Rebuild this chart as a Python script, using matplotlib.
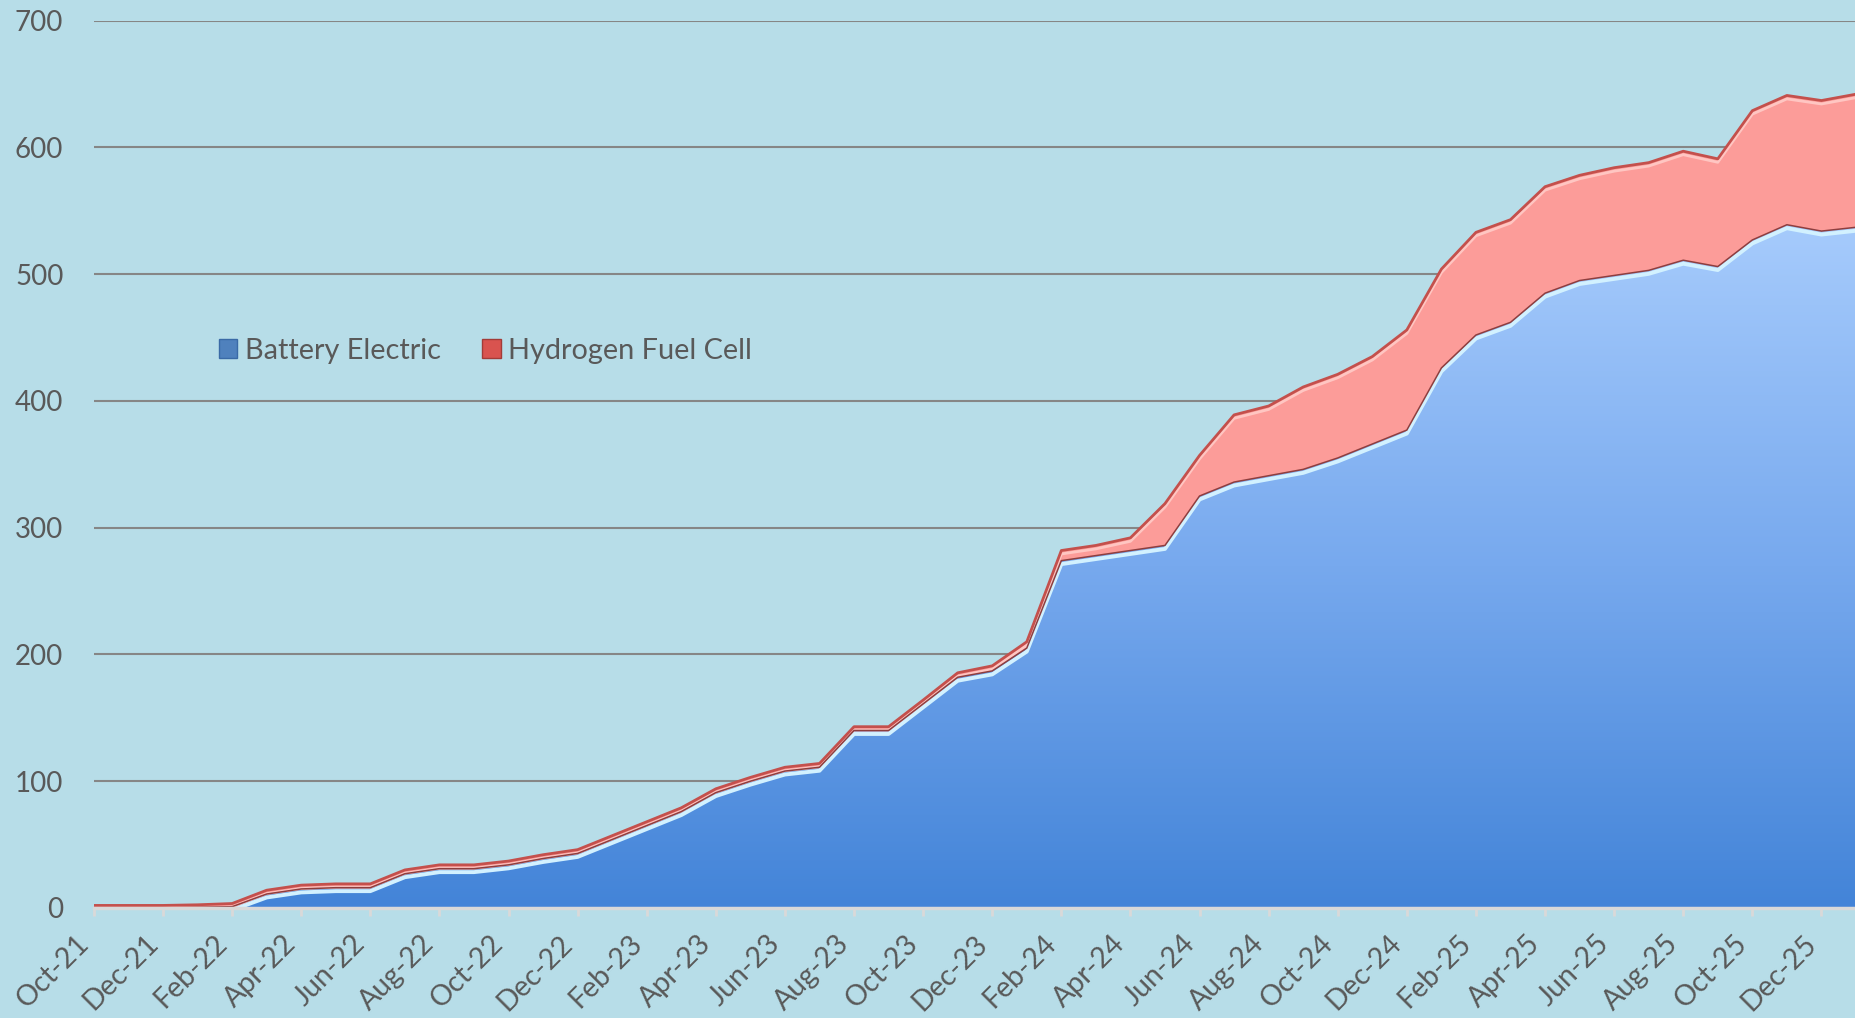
import numpy as np
import matplotlib.pyplot as plt
import matplotlib.transforms as mtransforms
from matplotlib.patches import Patch
from matplotlib.colors import LinearSegmentedColormap

months = ["Oct-21", "Nov-21", "Dec-21", "Jan-22", "Feb-22", "Mar-22", "Apr-22", "May-22",
          "Jun-22", "Jul-22", "Aug-22", "Sep-22", "Oct-22", "Nov-22", "Dec-22", "Jan-23",
          "Feb-23", "Mar-23", "Apr-23", "May-23", "Jun-23", "Jul-23", "Aug-23", "Sep-23",
          "Oct-23", "Nov-23", "Dec-23", "Jan-24", "Feb-24", "Mar-24", "Apr-24", "May-24",
          "Jun-24", "Jul-24", "Aug-24", "Sep-24", "Oct-24", "Nov-24", "Dec-24", "Jan-25",
          "Feb-25", "Mar-25", "Apr-25", "May-25", "Jun-25", "Jul-25", "Aug-25", "Sep-25",
          "Oct-25", "Nov-25", "Dec-25", "Jan-26"]

battery = [0, 0, 0, 0.5, 1, 11, 15, 16, 16, 27, 31, 31, 34, 39, 43, 54,
           65, 76, 91, 100, 108, 111, 140, 140, 161, 182, 187, 205, 274, 278, 282, 286,
           325, 336, 341, 346, 355, 366, 377, 426, 452, 462, 485, 495, 499, 503, 511, 506,
           527, 539, 534, 537]

hydrogen = [2, 2, 2, 2, 2.5, 3, 3, 3, 3, 3, 3, 3, 3, 3, 3, 3,
            3, 3, 3, 3, 3, 3, 3, 3, 3, 3.5, 4, 5, 8, 8, 10, 33,
            32, 53, 55, 65, 66, 69, 79, 78, 81, 81, 84, 83, 85, 85, 86, 85,
            102, 102, 103, 105]

bg = "#B7DDE8"
text_col = "#595959"
plt.rcParams["font.family"] = ["Lato", "DejaVu Sans"]

x = np.arange(len(months))
bev = np.array(battery, dtype=float)
total = bev + np.array(hydrogen, dtype=float)

fig = plt.figure(figsize=(18.56, 10.18), dpi=100, facecolor=bg)
ax = fig.add_axes([0.0506, 0.1081, 0.9494, 0.8716])
ax.set_facecolor(bg)

# battery area with vertical gradient
cmap = LinearSegmentedColormap.from_list("bev", ["#4384D8", "#77A9EE", "#A6CBFC"])
grad = np.linspace(0, 1, 256).reshape(-1, 1)
img = ax.imshow(grad, cmap=cmap, aspect="auto", origin="lower",
                extent=[0, x[-1], 0, bev.max()], zorder=2)
poly = ax.fill_between(x, 0, bev, facecolor="none", edgecolor="none", zorder=2)
img.set_clip_path(poly.get_paths()[0], transform=ax.transData)

# hydrogen area
ax.fill_between(x, bev, total, facecolor="#FC9C99", edgecolor="none", zorder=3)

# bevel-ish edges
down = mtransforms.offset_copy(ax.transData, fig=fig, x=0, y=-2.5, units="points")
ax.plot(x, total, color="#FFC6C2", lw=2, transform=down, zorder=4, solid_joinstyle="round")
ax.plot(x, bev, color="#D2F1FF", lw=2.8, transform=down, zorder=4, solid_joinstyle="round")
ax.plot(x, total, color="#C4504C", lw=2.0, zorder=5, solid_joinstyle="round")
ax.plot(x, bev, color="#8E3E3E", lw=1.1, zorder=5, solid_joinstyle="round")

ax.set_xlim(0, x[-1])
ax.set_ylim(0, 700)
ax.set_yticks(range(0, 701, 100))
ax.yaxis.grid(True, color="#868686", lw=1.5)
ax.set_axisbelow(True)

ax.set_xticks(x[::2])
ax.set_xticklabels(months[::2], rotation=45, ha="right")
ax.tick_params(axis="x", colors="#D9D9D9", length=6, width=2, pad=10,
               labelsize=20.5, labelcolor=text_col)
ax.tick_params(axis="y", length=0, pad=22, labelsize=20, labelcolor=text_col)

for s in ["top", "right", "left"]:
    ax.spines[s].set_visible(False)
ax.spines["bottom"].set_color("#D9D9D9")
ax.spines["bottom"].set_linewidth(2.5)
ax.spines["bottom"].set_zorder(6)

handles = [Patch(facecolor="#4F81BD", edgecolor="#3A6AA6", label="Battery Electric"),
           Patch(facecolor="#D9534F", edgecolor="#A33B38", label="Hydrogen Fuel Cell")]
fig.legend(handles=handles, loc="center left", bbox_to_anchor=(0.110, 0.6555),
           ncol=2, frameon=False, fontsize=20.8, labelcolor=text_col,
           handlelength=0.65, handleheight=0.65, handletextpad=0.25,
           columnspacing=1.45, borderpad=0)

fig.savefig("out.png", dpi=100, facecolor=bg)
